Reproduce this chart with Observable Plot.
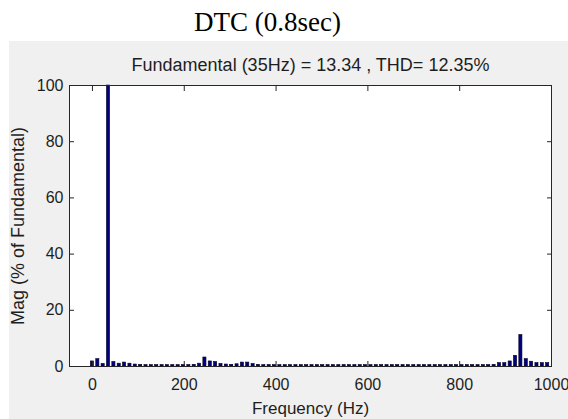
<!DOCTYPE html>
<html><head><meta charset="utf-8">
<script src="https://cdn.jsdelivr.net/npm/d3@7"></script>
<script src="https://cdn.jsdelivr.net/npm/@observablehq/plot@0.6"></script>
<style>
body{margin:0;background:#fff;}
#wrap{position:relative;width:568px;height:419px;overflow:hidden;background:#fff;}
#title{position:absolute;left:0;top:6px;width:535px;text-align:center;font-family:"Liberation Serif","Times New Roman",serif;font-size:27px;line-height:32px;color:#000;}
#panel{position:absolute;left:9px;top:41px;width:559px;height:378px;background:#f0f0f0;}
#panel svg{display:block;overflow:visible;}
</style></head><body>
<div id="wrap"><div id="title"></div><div id="panel"></div></div>
<script>
const title = "DTC (0.8sec)";
const subtitle = "Fundamental (35Hz) = 13.34 , THD= 12.35%";
const xLabel = "Frequency (Hz)";
const yLabel = "Mag (% of Fundamental)";
const xTicks = [0, 200, 400, 600, 800, 1000];
const yTicks = [0, 20, 40, 60, 80, 100];
const freqs = [0,11.7,23.3,35,46.7,58.3,70,81.7,93.3,105,
  116.7,128.3,140,151.7,163.3,175,186.7,198.3,210,221.7,
  233.3,245,256.7,268.3,280,291.7,303.3,315,326.7,338.3,
  350,361.7,373.3,385,396.7,408.3,420,431.7,443.3,455,
  466.7,478.3,490,501.7,513.3,525,536.7,548.3,560,571.7,
  583.3,595,606.7,618.3,630,641.7,653.3,665,676.7,688.3,
  700,711.7,723.3,735,746.7,758.3,770,781.7,793.3,805,
  816.7,828.3,840,851.7,863.3,875,886.7,898.3,910,921.7,
  933.3,945,956.7,968.3,980,991.7];
const mags = [1.8,2.6,0.9,100,1.6,1.0,1.4,1.0,0.7,0.6,
  0.5,0.5,0.5,0.5,0.5,0.5,0.5,0.5,0.5,0.6,
  1.0,3.2,1.8,1.6,0.9,0.7,0.6,0.8,1.4,1.4,
  0.9,0.6,0.5,0.5,0.5,0.5,0.5,0.5,0.5,0.5,
  0.5,0.5,0.5,0.5,0.5,0.5,0.5,0.5,0.5,0.5,
  0.5,0.5,0.5,0.5,0.5,0.5,0.5,0.5,0.5,0.5,
  0.5,0.5,0.5,0.5,0.5,0.5,0.5,0.5,0.5,0.5,
  0.5,0.5,0.5,0.5,0.5,0.6,1.2,1.2,1.8,3.8,
  11.2,2.6,1.7,1.2,1.2,1.2];

document.getElementById("title").textContent = title;
const data = freqs.map((f, i) => ({f, m: mags[i]}));
const halfW = 3.4;
const ink = "#1e1e1e";
const font = "'Liberation Sans', Arial, sans-serif";

const chart = Plot.plot({
  width: 559, height: 378,
  marginLeft: 60, marginRight: 17, marginTop: 44, marginBottom: 53,
  style: {background: "transparent", fontFamily: font, fontSize: "16px", color: ink, overflow: "visible"},
  x: {domain: [-50, 1000]},
  y: {domain: [0, 100]},
  marks: [
    Plot.frame({fill: "white"}),
    Plot.rectY(data, {x1: d => d.f - halfW, x2: d => d.f + halfW, y: "m", fill: "#000080", stroke: "#000020", strokeWidth: 0.6}),
    Plot.axisX(xTicks, {anchor: "bottom", tickSize: -5, fill: "none", stroke: "#262626", label: null}),
    Plot.axisX(xTicks, {anchor: "top", tickSize: -5, fill: "none", stroke: "#262626", label: null}),
    Plot.axisY(yTicks, {anchor: "left", tickSize: -5, fill: "none", stroke: "#262626", label: null}),
    Plot.axisY(yTicks, {anchor: "right", tickSize: -5, fill: "none", stroke: "#262626", label: null}),
    Plot.axisX(xTicks, {anchor: "bottom", tickSize: 0, tickPadding: 12, fill: ink, label: null, fontSize: 16, tickFormat: d => String(d)}),
    Plot.axisY(yTicks, {anchor: "left", tickSize: 0, tickPadding: 6, fill: ink, label: null, fontSize: 16, tickFormat: d => String(d)}),
    Plot.frame({stroke: "#262626"}),
    Plot.text([subtitle], {frameAnchor: "top", textAnchor: "middle", lineAnchor: "bottom", dy: -15, fontSize: 18, fill: ink}),
    Plot.text([xLabel], {frameAnchor: "bottom", textAnchor: "middle", lineAnchor: "bottom", dy: 47, fontSize: 17, fill: ink}),
    Plot.text([yLabel], {frameAnchor: "left", textAnchor: "middle", lineAnchor: "middle", rotate: -90, dx: -51.5, fontSize: 18, fill: ink})
  ]
});
document.getElementById("panel").appendChild(chart);
</script>
</body></html>
